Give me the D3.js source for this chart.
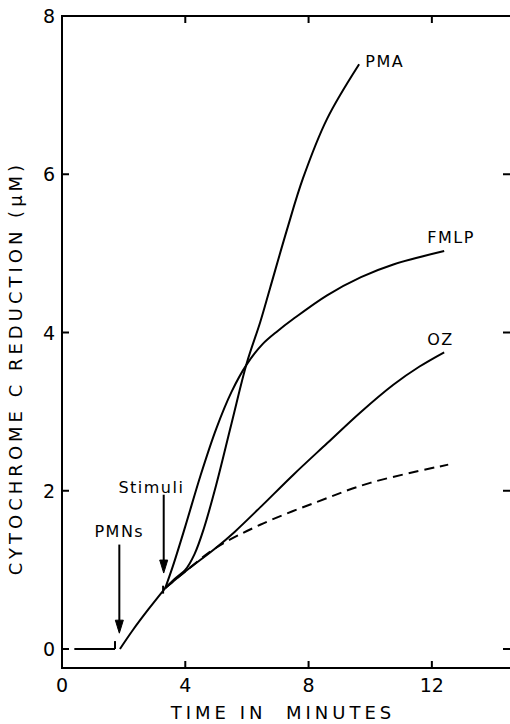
<!DOCTYPE html>
<html>
<head>
<meta charset="utf-8">
<script src="https://cdn.jsdelivr.net/npm/d3@7"></script>
<style>
  html, body { margin: 0; padding: 0; background: #fff; }
  svg text { fill: #000; }
</style>
</head>
<body>
<svg id="chart" width="510" height="724"></svg>
<script>
// values (time in minutes, cytochrome c reduction in uM)
var baseT = [0.4, 1.72];
var baseY = [0, 0];

var pmnT = [1.88, 2.3, 2.8, 3.35];
var pmnY = [0, 0.24, 0.5, 0.77];

var ctlT = [3.35, 4.0, 5.0, 6.43, 8.28, 10.0, 12.53];
var ctlY = [0.77, 0.98, 1.28, 1.57, 1.86, 2.10, 2.33];

var ozT = [3.35, 4.0, 5.0, 5.6, 6.43, 7.5, 8.6, 9.68, 10.75, 11.6, 12.4];
var ozY = [0.77, 0.98, 1.28, 1.48, 1.79, 2.2, 2.6, 2.99, 3.34, 3.57, 3.75];

var fmlpT = [3.35, 3.6, 4.0, 4.5, 5.0, 5.5, 6.0, 6.5, 7.0, 7.5, 8.6, 9.7, 10.75, 12.4];
var fmlpY = [0.77, 1.05, 1.55, 2.2, 2.78, 3.25, 3.6, 3.85, 4.02, 4.17, 4.47, 4.70, 4.86, 5.03];

var pmaT = [3.35, 3.7, 4.0, 4.3, 4.6, 5.0, 5.5, 6.0, 6.43, 6.75, 7.3, 7.82, 8.6, 9.64];
var pmaY = [0.77, 0.9, 1.0, 1.2, 1.52, 2.07, 2.85, 3.62, 4.13, 4.56, 5.3, 5.95, 6.7, 7.39];

var xTicks = [0, 4, 8, 12];
var yTicks = [0, 2, 4, 6, 8];

var svg = d3.select("#chart");
var font = "'DejaVu Sans', sans-serif";

var x = d3.scaleLinear().domain([0, 14.6]).range([62, 512]);
var y = d3.scaleLinear().domain([-0.24, 8]).range([668, 16]);

function pts(ts, vs) {
  return ts.map(function(t, i) { return [t, vs[i]]; });
}

var line = d3.line()
  .x(function(d) { return x(d[0]); })
  .y(function(d) { return y(d[1]); })
  .curve(d3.curveCatmullRom.alpha(0.5));

// frame: left, bottom, top lines
var frame = svg.append("g")
  .attr("stroke", "#000")
  .attr("stroke-width", 2)
  .attr("fill", "none");

frame.append("line")
  .attr("x1", x(0)).attr("x2", x(0))
  .attr("y1", y(8)).attr("y2", y(-0.24));
frame.append("line")
  .attr("x1", x(0) - 1).attr("x2", 510)
  .attr("y1", y(-0.24)).attr("y2", y(-0.24));
frame.append("line")
  .attr("x1", x(0) - 1).attr("x2", 510)
  .attr("y1", y(8)).attr("y2", y(8));

// inward ticks
var tickLen = 7;
xTicks.slice(1).forEach(function(t) {
  frame.append("line")
    .attr("x1", x(t)).attr("x2", x(t))
    .attr("y1", y(-0.24)).attr("y2", y(-0.24) - tickLen);
  frame.append("line")
    .attr("x1", x(t)).attr("x2", x(t))
    .attr("y1", y(8)).attr("y2", y(8) + tickLen);
});
yTicks.slice(0, -1).forEach(function(v) {
  frame.append("line")
    .attr("x1", x(0)).attr("x2", x(0) + tickLen)
    .attr("y1", y(v)).attr("y2", y(v));
  frame.append("line")
    .attr("x1", 503).attr("x2", 510)
    .attr("y1", y(v)).attr("y2", y(v));
});

// tick labels
svg.append("g").selectAll("text")
  .data(xTicks)
  .join("text")
  .attr("x", function(d) { return x(d); })
  .attr("y", 692)
  .attr("text-anchor", "middle")
  .attr("font-family", font)
  .attr("font-size", 19)
  .text(function(d) { return d; });

svg.append("g").selectAll("text")
  .data(yTicks)
  .join("text")
  .attr("x", 55)
  .attr("y", function(d) { return y(d) + 7; })
  .attr("text-anchor", "end")
  .attr("font-family", font)
  .attr("font-size", 19)
  .text(function(d) { return d; });

// axis titles
svg.append("text")
  .attr("x", 283)
  .attr("y", 719)
  .attr("text-anchor", "middle")
  .attr("font-family", font)
  .attr("font-size", 18)
  .attr("letter-spacing", 4)
  .attr("xml:space", "preserve")
  .text("TIME IN  MINUTES");

svg.append("text")
  .attr("transform", "translate(22,368) rotate(-90)")
  .attr("text-anchor", "middle")
  .attr("font-family", font)
  .attr("font-size", 18)
  .attr("letter-spacing", 4)
  .attr("xml:space", "preserve")
  .text("CYTOCHROME C REDUCTION (\u00b5M)");

// curves
var curves = svg.append("g")
  .attr("fill", "none")
  .attr("stroke", "#000")
  .attr("stroke-width", 2);

curves.append("path").attr("d", line(pts(baseT, baseY)));
curves.append("path").attr("d", line(pts(pmnT, pmnY)));
curves.append("path").attr("d", line(pts(ctlT, ctlY)))
  .attr("stroke-dasharray", "10,6");
curves.append("path").attr("d", line(pts(ozT, ozY)));
curves.append("path").attr("d", line(pts(fmlpT, fmlpY)));
curves.append("path").attr("d", line(pts(pmaT, pmaY)));

// small addition marks
curves.append("line")
  .attr("x1", x(baseT[1])).attr("x2", x(baseT[1]))
  .attr("y1", y(0)).attr("y2", y(0.1));
curves.append("line")
  .attr("x1", x(3.28)).attr("x2", x(3.28))
  .attr("y1", y(0.7)).attr("y2", y(0.8));

// arrows
function arrow(t, v0, v1) {
  var g = svg.append("g").attr("stroke", "#000").attr("fill", "#000");
  g.append("line")
    .attr("x1", x(t)).attr("x2", x(t))
    .attr("y1", y(v0)).attr("y2", y(v1) - 4)
    .attr("stroke-width", 2);
  g.append("path")
    .attr("d", "M" + (x(t) - 4) + "," + (y(v1) - 13) +
               "L" + x(t) + "," + y(v1) +
               "L" + (x(t) + 4) + "," + (y(v1) - 13) + "Z")
    .attr("stroke-width", 1);
}
arrow(1.86, 1.32, 0.2);
arrow(3.3, 1.95, 0.96);

// annotations
function label(txt, t, v, size, anchor) {
  svg.append("text")
    .attr("x", x(t))
    .attr("y", y(v))
    .attr("dy", "0.35em")
    .attr("text-anchor", anchor)
    .attr("font-family", font)
    .attr("font-size", size)
    .attr("letter-spacing", 1.5)
    .text(txt);
}
label("PMNs", 1.86, 1.49, 16, "middle");
label("Stimuli", 2.9, 2.04, 16, "middle");
label("PMA", 9.84, 7.42, 16, "start");
label("FMLP", 11.85, 5.2, 16, "start");
label("OZ", 11.85, 3.91, 16, "start");
</script>
</body>
</html>
